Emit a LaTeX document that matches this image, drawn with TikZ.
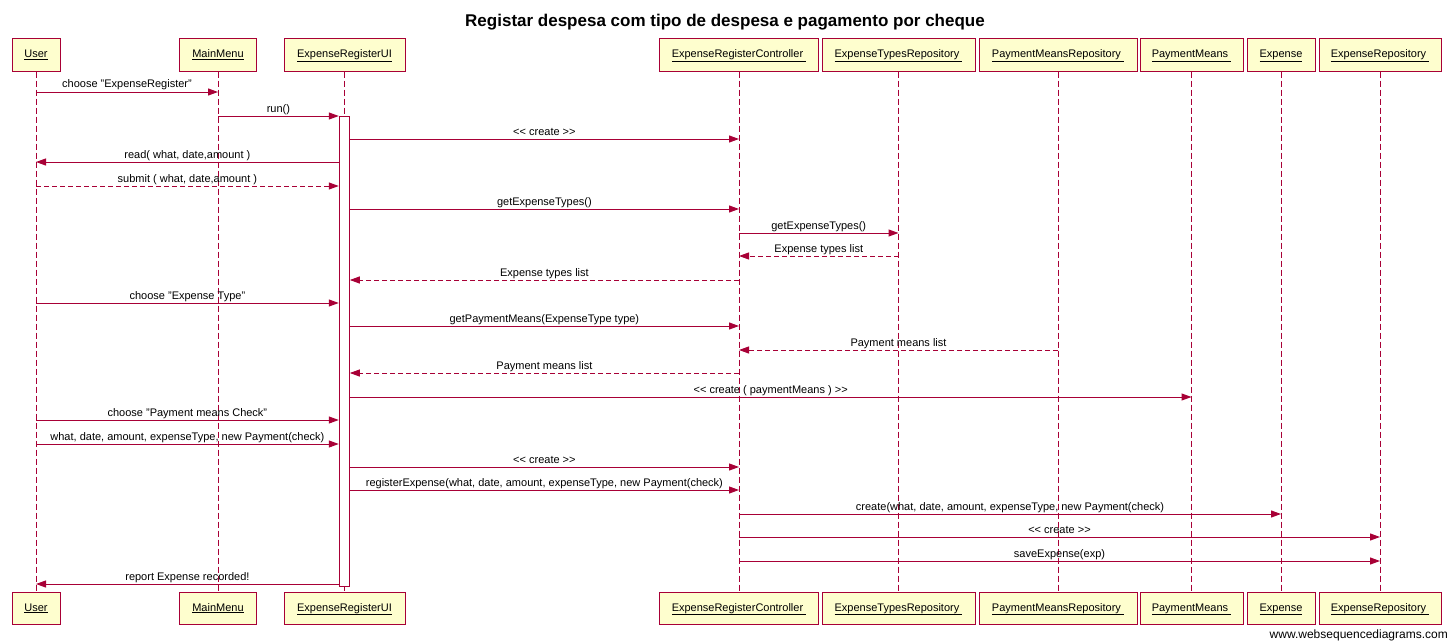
\documentclass[tikz,border=0pt]{standalone}
\usepackage{fontspec}
\setmainfont{Liberation Sans}
\usetikzlibrary{arrows.meta}
\definecolor{wsdred}{HTML}{A80036}
\definecolor{wsdfill}{HTML}{FEFECE}

\begin{document}
\begin{tikzpicture}[x=1pt,y=-1pt,
   actor/.style={draw=wsdred,fill=wsdfill,line width=1pt,minimum height=32pt,inner sep=0pt,text height=8pt,text depth=2pt,font=\fontsize{11}{13}\selectfont},
   life/.style={draw=wsdred,line width=1pt,dash pattern=on 6pt off 3pt},
   msg/.style={draw=wsdred,line width=1pt,-{Triangle[length=10pt,width=7pt]}},
   reply/.style={msg,dash pattern=on 5pt off 3pt},
   says/.style={anchor=base,yshift=4pt,inner sep=0pt,font=\fontsize{11}{13}\selectfont}]
   \useasboundingbox (0,0) rectangle (1450,642);
   \node[anchor=base,font=\fontsize{17}{20}\selectfont\bfseries] (title) at (725,27) {Registar despesa com tipo de despesa e pagamento por cheque};
   \node[anchor=base east,inner sep=0pt,font=\fontsize{12}{14}\selectfont] (wsd) at (1448,638) {www.websequencediagrams.com};
   \node[actor,minimum width=48pt] (user) at (36,55) {\underline{User}};
   \node[actor,minimum width=48pt] (userB) at (36,608) {\underline{User}};
   \node[actor,minimum width=77pt] (menu) at (218,55) {\underline{MainMenu}};
   \node[actor,minimum width=77pt] (menuB) at (218,608) {\underline{MainMenu}};
   \node[actor,minimum width=121pt] (ui) at (344.5,55) {\underline{ExpenseRegisterUI}};
   \node[actor,minimum width=121pt] (uiB) at (344.5,608) {\underline{ExpenseRegisterUI}};
   \node[actor,minimum width=159pt] (ctrl) at (739,55) {\underline{ExpenseRegisterController\ }};
   \node[actor,minimum width=159pt] (ctrlB) at (739,608) {\underline{ExpenseRegisterController\ }};
   \node[actor,minimum width=153pt] (types) at (898.5,55) {\underline{ExpenseTypesRepository\ }};
   \node[actor,minimum width=153pt] (typesB) at (898.5,608) {\underline{ExpenseTypesRepository\ }};
   \node[actor,minimum width=158pt] (meansrepo) at (1058,55) {\underline{PaymentMeansRepository\ }};
   \node[actor,minimum width=158pt] (meansrepoB) at (1058,608) {\underline{PaymentMeansRepository\ }};
   \node[actor,minimum width=103pt] (means) at (1191.5,55) {\underline{PaymentMeans\ }};
   \node[actor,minimum width=103pt] (meansB) at (1191.5,608) {\underline{PaymentMeans\ }};
   \node[actor,minimum width=68pt] (expense) at (1281,55) {\underline{Expense}};
   \node[actor,minimum width=68pt] (expenseB) at (1281,608) {\underline{Expense}};
   \node[actor,minimum width=122pt] (exprepo) at (1380,55) {\underline{ExpenseRepository\ }};
   \node[actor,minimum width=122pt] (exprepoB) at (1380,608) {\underline{ExpenseRepository\ }};
   \draw[life] (user) -- (userB);
   \draw[life] (menu) -- (menuB);
   \draw[life] (ui) -- (uiB);
   \draw[life] (ctrl) -- (ctrlB);
   \draw[life] (types) -- (typesB);
   \draw[life] (meansrepo) -- (meansrepoB);
   \draw[life] (means) -- (meansB);
   \draw[life] (expense) -- (expenseB);
   \draw[life] (exprepo) -- (exprepoB);
   \node[draw=wsdred,fill=white,line width=1pt,inner sep=0pt,minimum width=10pt,minimum height=470pt] (bar) at (344.3,351) {};
   \draw[msg] (user |- 0,92) -- node[says]{choose "ExpenseRegister"} (menu |- 0,92);
   \draw[msg] (menu |- 0,116) -- node[says]{run()} (bar.west |- 0,116);
   \draw[msg] (bar.east |- 0,139) -- node[says]{<{}< create >{}>} (ctrl |- 0,139);
   \draw[msg] (bar.west |- 0,162) -- node[says]{read( what, date,amount )} (user |- 0,162);
   \draw[reply] (user |- 0,186) -- node[says]{submit ( what, date,amount )} (bar.west |- 0,186);
   \draw[msg] (bar.east |- 0,209) -- node[says]{getExpenseTypes()} (ctrl |- 0,209);
   \draw[msg] (ctrl |- 0,233) -- node[says]{getExpenseTypes()} (types |- 0,233);
   \draw[reply] (types |- 0,256) -- node[says]{Expense types list} (ctrl |- 0,256);
   \draw[reply] (ctrl |- 0,280) -- node[says]{Expense types list} (bar.east |- 0,280);
   \draw[msg] (user |- 0,303) -- node[says]{choose "Expense Type"} (bar.west |- 0,303);
   \draw[msg] (bar.east |- 0,326) -- node[says]{getPaymentMeans(ExpenseType type)} (ctrl |- 0,326);
   \draw[reply] (meansrepo |- 0,350) -- node[says]{Payment means list} (ctrl |- 0,350);
   \draw[reply] (ctrl |- 0,373) -- node[says]{Payment means list} (bar.east |- 0,373);
   \draw[msg] (bar.east |- 0,397) -- node[says]{<{}< create ( paymentMeans ) >{}>} (means |- 0,397);
   \draw[msg] (user |- 0,420) -- node[says]{choose "Payment means Check"} (bar.west |- 0,420);
   \draw[msg] (user |- 0,444) -- node[says]{what, date, amount, expenseType, new Payment(check)} (bar.west |- 0,444);
   \draw[msg] (bar.east |- 0,467) -- node[says]{<{}< create >{}>} (ctrl |- 0,467);
   \draw[msg] (bar.east |- 0,490) -- node[says]{registerExpense(what, date, amount, expenseType, new Payment(check)} (ctrl |- 0,490);
   \draw[msg] (ctrl |- 0,514) -- node[says]{create(what, date, amount, expenseType, new Payment(check)} (expense |- 0,514);
   \draw[msg] (ctrl |- 0,537) -- node[says]{<{}< create >{}>} (exprepo |- 0,537);
   \draw[msg] (ctrl |- 0,561) -- node[says]{saveExpense(exp)} (exprepo |- 0,561);
   \draw[msg] (bar.west |- 0,584) -- node[says]{report Expense recorded!} (user |- 0,584);
\end{tikzpicture}
\end{document}
